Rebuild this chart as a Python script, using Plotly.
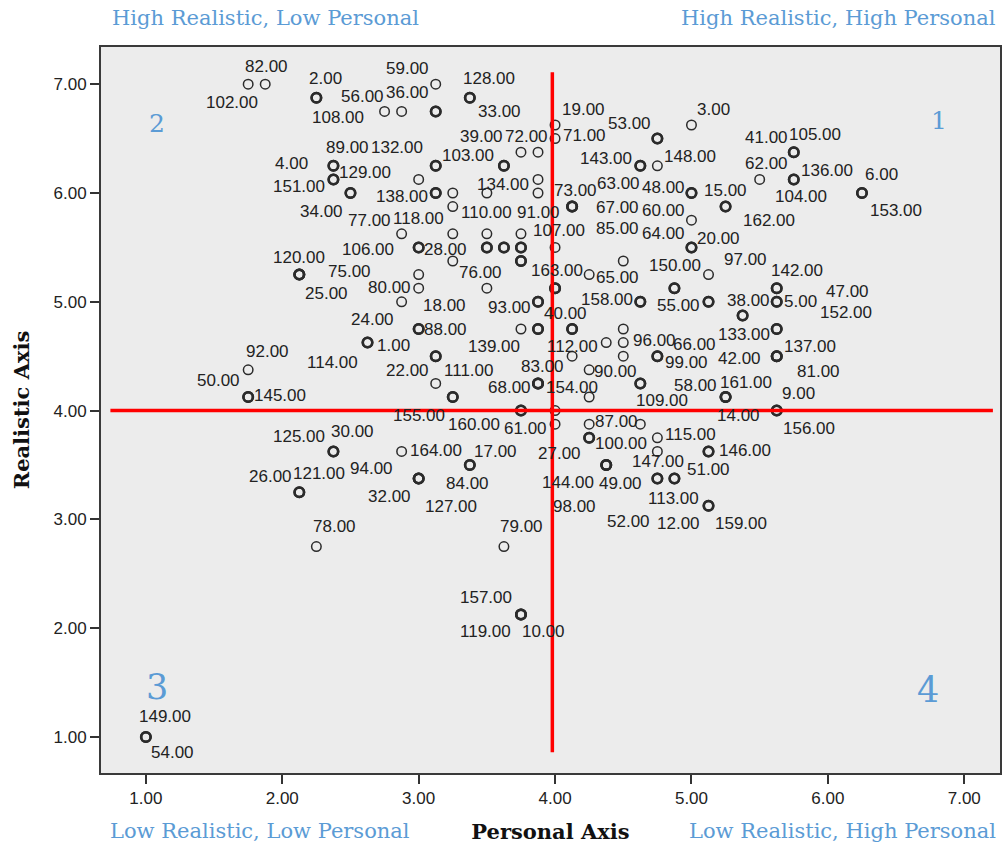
import plotly.graph_objects as go
from collections import Counter

# ---------------- data: labelled cases (case id, Personal, Realistic) ----------------
case_id = [102, 82, 59, 2, 108, 128, 33, 56, 36, 19, 3, 71, 53, 39, 72, 41, 105,
           4, 89, 132, 103, 143, 63, 148, 129, 151, 134, 62, 136, 104, 34, 138,
           48, 15, 6, 153, 110, 73, 67, 85, 162, 60, 77, 118, 91, 106, 28, 107,
           64, 20, 76, 120, 75, 25, 65, 97, 80, 163, 150, 142, 47, 18, 93, 40,
           158, 55, 5, 152, 38, 24, 88, 139, 112, 133, 114, 1, 96, 22, 111, 66,
           99, 137, 42, 81, 92, 90, 83, 68, 154, 109, 50, 145, 155, 161, 14, 58,
           160, 61, 9, 156, 27, 87, 100, 115, 125, 30, 164, 147, 146, 17, 84, 49,
           144, 98, 94, 32, 127, 113, 52, 51, 12, 26, 121, 159, 78, 79, 157, 119,
           10, 149, 54]

personal = [1.75, 1.875, 3.125, 2.25, 2.25, 3.375, 3.375, 2.75, 2.875, 4.0, 5.0, 4.0, 4.75, 3.75, 3.875, 5.75, 5.75,
            2.375, 2.375, 3.125, 3.625, 4.625, 4.625, 4.75, 2.375, 2.375, 3.875, 5.5, 5.75, 5.75, 2.5, 3.125,
            5.0, 5.0, 6.25, 6.25, 3.25, 4.125, 4.125, 4.125, 5.25, 5.0, 2.875, 3.25, 3.75, 3.0, 3.0, 4.0,
            5.0, 5.0, 3.25, 2.125, 2.125, 2.125, 4.25, 5.125, 3.0, 4.0, 4.875, 5.625, 5.625, 2.875, 3.875, 3.875,
            4.625, 5.125, 5.625, 5.625, 5.375, 3.0, 3.0, 3.75, 4.125, 5.625, 2.625, 2.625, 4.5, 3.125, 3.125, 4.75,
            4.75, 5.625, 5.625, 5.625, 1.75, 4.25, 3.875, 3.875, 3.875, 4.625, 1.75, 1.75, 3.25, 5.25, 5.25, 5.25,
            3.75, 3.75, 5.625, 5.625, 4.0, 4.25, 4.25, 4.75, 2.375, 2.375, 2.875, 4.75, 5.125, 3.375, 3.375, 4.375,
            4.375, 4.375, 3.0, 3.0, 3.0, 4.75, 4.75, 4.875, 4.875, 2.125, 2.125, 5.125, 2.25, 3.625, 3.75, 3.75,
            3.75, 1.0, 1.0]

realistic = [7.0, 7.0, 7.0, 6.875, 6.875, 6.875, 6.875, 6.75, 6.75, 6.625, 6.625, 6.5, 6.5, 6.375, 6.375, 6.375, 6.375,
             6.25, 6.25, 6.25, 6.25, 6.25, 6.25, 6.25, 6.125, 6.125, 6.125, 6.125, 6.125, 6.125, 6.0, 6.0,
             6.0, 6.0, 6.0, 6.0, 5.875, 5.875, 5.875, 5.875, 5.875, 5.75, 5.625, 5.625, 5.625, 5.5, 5.5, 5.5,
             5.5, 5.5, 5.375, 5.25, 5.25, 5.25, 5.25, 5.25, 5.125, 5.125, 5.125, 5.125, 5.125, 5.0, 5.0, 5.0,
             5.0, 5.0, 5.0, 5.0, 4.875, 4.75, 4.75, 4.75, 4.75, 4.75, 4.625, 4.625, 4.625, 4.5, 4.5, 4.5,
             4.5, 4.5, 4.5, 4.5, 4.375, 4.375, 4.25, 4.25, 4.25, 4.25, 4.125, 4.125, 4.125, 4.125, 4.125, 4.125,
             4.0, 4.0, 4.0, 4.0, 3.875, 3.875, 3.75, 3.75, 3.625, 3.625, 3.625, 3.625, 3.625, 3.5, 3.5, 3.5,
             3.5, 3.5, 3.375, 3.375, 3.375, 3.375, 3.375, 3.375, 3.375, 3.25, 3.25, 3.125, 2.75, 2.75, 2.125, 2.125,
             2.125, 1.0, 1.0]

# cases drawn whose labels are hidden behind others
unlabeled_personal = [3.125, 3.125, 4.75, 3.125, 3.625, 3.0, 2.5, 3.125, 3.25, 3.5, 3.875, 5.25, 3.5,
                      3.5, 3.5, 3.625, 3.625, 3.75, 3.75, 3.75, 3.75, 4.5, 3.0, 3.5, 4.0, 4.875,
                      4.625, 5.125, 5.375, 3.875, 3.875, 4.125, 4.5, 5.625, 4.375, 4.125, 4.5,
                      3.125, 4.625, 3.25, 4.25, 4.0, 4.625, 4.25, 5.125, 5.125]
unlabeled_realistic = [6.75, 6.75, 6.5, 6.25, 6.25, 6.125, 6.0, 6.0, 6.0, 6.0, 6.0, 5.875, 5.625,
                       5.5, 5.5, 5.5, 5.5, 5.5, 5.5, 5.375, 5.375, 5.375, 5.25, 5.125, 5.125, 5.125,
                       5.0, 5.0, 4.875, 4.75, 4.75, 4.75, 4.75, 4.75, 4.625, 4.5, 4.5,
                       4.25, 4.25, 4.125, 4.125, 4.0, 3.875, 3.75, 3.625, 3.125]

# axis ticks
tick_values = [1, 2, 3, 4, 5, 6, 7]

# quadrant dividing lines (hand-drawn in the original) and their extents
split_personal = 3.98
split_realistic = 4.0
split_personal_span = [0.86, 7.11]
split_realistic_span = [0.74, 7.21]

# ---------------- style: label offsets in pixels (dx right, dy up) ----------------
label_dx = [-16, 1, -28, 9, 22, 19, 30, -22, 6, 28, 22, 29, -28, -39, -12, -27, 21,
            -42, 14, -39, -36, -34, -22, 33, 32, -34, -35, 7, 33, 7, -29, -34,
            -28, 34, 20, 34, 34, 3, 45, 45, 43, -28, -32, -34, 18, -51, 27, 4,
            -28, 27, 28, 0, 50, 27, 28, 37, -29, 2, 1, 20, 71, 43, -29, 27,
            -33, -30, 24, 69, 6, -46, 27, -27, 0, -33, -35, 26, 31, -28, 33, 37,
            29, 33, -37, 42, 19, 26, 4, -29, 34, 22, -30, 32, -34, 20, 13, -30,
            -47, 5, 22, 32, 4, 27, 32, 33, -34, 19, 34, 1, 36, 26, -2, 14,
            -38, -32, -47, -29, 32, 16, -29, 34, 4, -29, 20, 32, 18, 18, -35, -35,
            23, 19, 27]
label_dy = [-18, 18, 16, 19, -20, 19, -14, 15, 19, 16, 16, 3, 15, 16, 16, 15, 18,
            2, 18, 18, 10, 7, -18, 9, 7, -7, -5, 16, 9, -17, -18, -3,
            6, 3, 19, -17, -6, 16, -1, -22, -14, 10, 13, 15, 21, -2, -2, 17,
            14, 9, -11, 17, 3, -19, -3, 15, 1, 18, 23, 18, -3, -4, -6, -12,
            2, -4, 0, -11, 15, 10, 0, -17, -17, -5, -20, -3, 2, -14, -14, 12,
            -6, 10, -2, -15, 18, -2, 17, -4, -4, -17, 17, 2, -18, 15, -18, 12,
            -14, -18, 17, -18, -29, 3, -6, 3, 15, 20, 1, -10, 1, 14, -18, -18,
            -17, -41, 10, -18, -28, -20, -43, 9, -45, 16, 19, -18, 20, 20, 17, -17,
            -17, 20, -16]

LABEL_FONT = dict(family="Liberation Sans, Arial, sans-serif", size=17, color="#222222")
SERIF = "DejaVu Serif, Liberation Serif, serif"
BLUE = "#5B9BD5"
INK = "#2b2b2b"

# ---------------- figure ----------------
all_x = personal + unlabeled_personal
all_y = realistic + unlabeled_realistic
multiplicity = Counter(zip(all_x, all_y))
ring_width = [1.5 if multiplicity[(a, b)] == 1 else 2.5 for a, b in zip(all_x, all_y)]

fig = go.Figure()
fig.add_trace(go.Scatter(
    x=all_x, y=all_y, mode="markers",
    marker=dict(symbol="circle-open", size=9.5, color=INK,
                line=dict(width=ring_width, color=INK)),
    hoverinfo="skip", showlegend=False,
))

for cid, px, py, dx, dy in zip(case_id, personal, realistic, label_dx, label_dy):
    fig.add_annotation(x=px, y=py, text=f"{cid:.2f}", showarrow=False,
                       xshift=dx, yshift=dy, xanchor="center", yanchor="middle",
                       font=LABEL_FONT)

# quadrant dividers
fig.add_shape(type="line", x0=split_personal, x1=split_personal,
              y0=split_personal_span[0], y1=split_personal_span[1],
              line=dict(color="#FF0000", width=3.5), layer="above")
fig.add_shape(type="line", y0=split_realistic, y1=split_realistic,
              x0=split_realistic_span[0], x1=split_realistic_span[1],
              line=dict(color="#FF0000", width=3.5), layer="above")

# corner captions
corner_texts = [
    ("High Realistic, Low Personal", 0.010, 1.040, "left"),
    ("High Realistic, High Personal", 0.998, 1.040, "right"),
    ("Low Realistic, Low Personal", 0.008, -0.080, "left"),
    ("Low Realistic, High Personal", 0.998, -0.080, "right"),
]
for txt, xp, yp, anc in corner_texts:
    fig.add_annotation(xref="paper", yref="paper", x=xp, y=yp, text=txt,
                       showarrow=False, xanchor=anc, yanchor="middle",
                       font=dict(family=SERIF, size=21, color=BLUE))

quadrant_numbers = [
    ("1", 0.932, 0.899, 25),
    ("2", 0.0625, 0.895, 25),
    ("3", 0.0622, 0.1185, 35),
    ("4", 0.920, 0.1143, 35),
]
for txt, xp, yp, sz in quadrant_numbers:
    fig.add_annotation(xref="paper", yref="paper", x=xp, y=yp, text=txt,
                       showarrow=False, xanchor="center", yanchor="middle",
                       font=dict(family=SERIF, size=sz, color=BLUE))

axis_common = dict(
    tickvals=tick_values, tickformat=".2f",
    ticks="outside", ticklen=9, tickwidth=1.5, tickcolor="#333333",
    showline=True, linecolor="#3a3a3a", linewidth=2, mirror=True,
    showgrid=False, zeroline=False,
    tickfont=dict(family="Liberation Sans, Arial, sans-serif", size=17, color="#222222"),
)

fig.update_layout(
    width=1002, height=846,
    margin=dict(l=101, r=0, t=47, b=73),
    paper_bgcolor="white", plot_bgcolor="#ECECEC",
    xaxis=dict(range=[0.671, 7.262],
               title=dict(text="Personal Axis", standoff=17,
                          font=dict(family=SERIF, size=21, color="#111111", weight="bold")),
               **axis_common),
    yaxis=dict(range=[0.669, 7.342],
               title=dict(text="Realistic Axis", standoff=18,
                          font=dict(family=SERIF, size=21, color="#111111", weight="bold")),
               **axis_common),
    showlegend=False,
)

fig.write_html("out.html",
               config={"displayModeBar": False},
               post_script="document.body.style.margin='0px';document.body.style.overflow='hidden';")
